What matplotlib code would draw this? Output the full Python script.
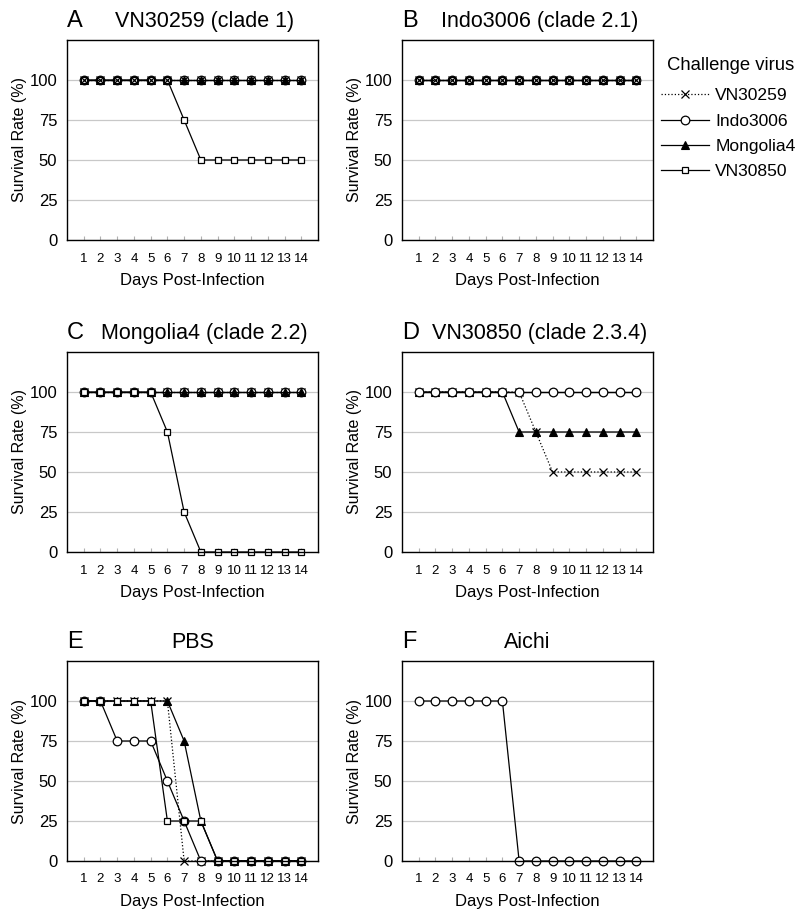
import matplotlib
matplotlib.use("Agg")
import matplotlib.pyplot as plt

plt.rcParams['font.family'] = ['Liberation Sans', 'DejaVu Sans']

days = [1, 2, 3, 4, 5, 6, 7, 8, 9, 10, 11, 12, 13, 14]
viruses = ['VN30259', 'Indo3006', 'Mongolia4', 'VN30850']

# A - VN30259 (clade 1)
a_vn30259 = [100, 100, 100, 100, 100, 100, 100, 100, 100, 100, 100, 100, 100, 100]
a_indo3006 = [100, 100, 100, 100, 100, 100, 100, 100, 100, 100, 100, 100, 100, 100]
a_mongolia4 = [100, 100, 100, 100, 100, 100, 100, 100, 100, 100, 100, 100, 100, 100]
a_vn30850 = [100, 100, 100, 100, 100, 100, 75, 50, 50, 50, 50, 50, 50, 50]

# B - Indo3006 (clade 2.1)
b_vn30259 = [100, 100, 100, 100, 100, 100, 100, 100, 100, 100, 100, 100, 100, 100]
b_indo3006 = [100, 100, 100, 100, 100, 100, 100, 100, 100, 100, 100, 100, 100, 100]
b_mongolia4 = [100, 100, 100, 100, 100, 100, 100, 100, 100, 100, 100, 100, 100, 100]
b_vn30850 = [100, 100, 100, 100, 100, 100, 100, 100, 100, 100, 100, 100, 100, 100]

# C - Mongolia4 (clade 2.2)
c_vn30259 = [100, 100, 100, 100, 100, 100, 100, 100, 100, 100, 100, 100, 100, 100]
c_indo3006 = [100, 100, 100, 100, 100, 100, 100, 100, 100, 100, 100, 100, 100, 100]
c_mongolia4 = [100, 100, 100, 100, 100, 100, 100, 100, 100, 100, 100, 100, 100, 100]
c_vn30850 = [100, 100, 100, 100, 100, 75, 25, 0, 0, 0, 0, 0, 0, 0]

# D - VN30850 (clade 2.3.4)
d_vn30259 = [100, 100, 100, 100, 100, 100, 100, 75, 50, 50, 50, 50, 50, 50]
d_indo3006 = [100, 100, 100, 100, 100, 100, 100, 100, 100, 100, 100, 100, 100, 100]
d_mongolia4 = [100, 100, 100, 100, 100, 100, 75, 75, 75, 75, 75, 75, 75, 75]
d_vn30850 = [100, 100, 100, 100, 100, 100, 100, 100, 100, 100, 100, 100, 100, 100]

# E - PBS
e_vn30259 = [100, 100, 100, 100, 100, 100, 0, 0, 0, 0, 0, 0, 0, 0]
e_indo3006 = [100, 100, 75, 75, 75, 50, 25, 0, 0, 0, 0, 0, 0, 0]
e_mongolia4 = [100, 100, 100, 100, 100, 100, 75, 25, 0, 0, 0, 0, 0, 0]
e_vn30850 = [100, 100, 100, 100, 100, 25, 25, 25, 0, 0, 0, 0, 0, 0]

# F - Aichi
f_indo3006 = [100, 100, 100, 100, 100, 100, 0, 0, 0, 0, 0, 0, 0, 0]

styles = {
    'VN30259': dict(ls=':', marker='x', ms=6, mfc='black', mec='black', mew=0.9),
    'Indo3006': dict(ls='-', marker='o', ms=6.2, mfc='white', mec='black', mew=0.9),
    'Mongolia4': dict(ls='-', marker='^', ms=5.5, mfc='black', mec='black', mew=0.8),
    'VN30850': dict(ls='-', marker='s', ms=4.8, mfc='white', mec='black', mew=0.9),
}

W, H = 800, 915
fig = plt.figure(figsize=(W / 100, H / 100), dpi=100)


def make_ax(left, top):
    return fig.add_axes([left / W, 1 - (top + 200) / H, 251 / W, 200 / H])


def draw_panel(ax, letter, title, series, title_x=0.548):
    for name, vals in series:
        ax.plot(days, vals, color='black', lw=0.9, label=name, clip_on=False, zorder=3, **styles[name])
    ax.set_xlim(0, 15)
    ax.set_ylim(0, 125)
    ax.set_xticks(days)
    ax.set_yticks([0, 25, 50, 75, 100])
    ax.yaxis.grid(True, color='#c8c8c8', lw=0.9)
    ax.set_axisbelow(True)
    ax.tick_params(axis='x', direction='in', length=3, color='#b0b0b0', labelsize=9.5, pad=9)
    ax.tick_params(axis='y', length=0, labelsize=12, pad=7)
    for s in ax.spines.values():
        s.set_linewidth(1.0)
        s.set_zorder(4)
    ax.set_xlabel('Days Post-Infection', fontsize=12, labelpad=6)
    ax.set_ylabel('Survival Rate (%)', fontsize=11.5, labelpad=1.5)
    ax.text(0, 1.095, letter, transform=ax.transAxes, fontsize=17, ha='left', va='center')
    ax.text(title_x, 1.095, title, transform=ax.transAxes, fontsize=15.5, ha='center', va='center')


ax_a = make_ax(67, 40)
draw_panel(ax_a, 'A', 'VN30259 (clade 1)', [('Indo3006', a_indo3006), ('Mongolia4', a_mongolia4),
                                           ('VN30850', a_vn30850), ('VN30259', a_vn30259)])
ax_b = make_ax(402, 40)
draw_panel(ax_b, 'B', 'Indo3006 (clade 2.1)', [('Indo3006', b_indo3006), ('Mongolia4', b_mongolia4),
                                              ('VN30850', b_vn30850), ('VN30259', b_vn30259)])
ax_c = make_ax(67, 352)
draw_panel(ax_c, 'C', 'Mongolia4 (clade 2.2)', [('VN30259', c_vn30259), ('Indo3006', c_indo3006),
                                               ('Mongolia4', c_mongolia4), ('VN30850', c_vn30850)])
ax_d = make_ax(402, 352)
draw_panel(ax_d, 'D', 'VN30850 (clade 2.3.4)', [('VN30850', d_vn30850), ('VN30259', d_vn30259),
                                               ('Mongolia4', d_mongolia4), ('Indo3006', d_indo3006)])
ax_e = make_ax(67, 661)
draw_panel(ax_e, 'E', 'PBS', [('VN30259', e_vn30259), ('Indo3006', e_indo3006),
                              ('Mongolia4', e_mongolia4), ('VN30850', e_vn30850)], title_x=0.5)
ax_f = make_ax(402, 661)
draw_panel(ax_f, 'F', 'Aichi', [('Indo3006', f_indo3006)], title_x=0.5)

# legend in the order of the challenge viruses
handles, labels = ax_a.get_legend_handles_labels()
lookup = dict(zip(labels, handles))
fig.text(667 / W, 1 - 66 / H, 'Challenge virus', fontsize=13.3, ha='left', va='center')
fig.legend([lookup[v] for v in viruses], viruses, loc='upper left',
           bbox_to_anchor=(661 / W, 1 - 88 / H), frameon=False, fontsize=12.6,
           handlelength=2.75, handletextpad=0.35, labelspacing=0.58, borderpad=0,
           borderaxespad=0)

fig.savefig('out.png', dpi=100)
